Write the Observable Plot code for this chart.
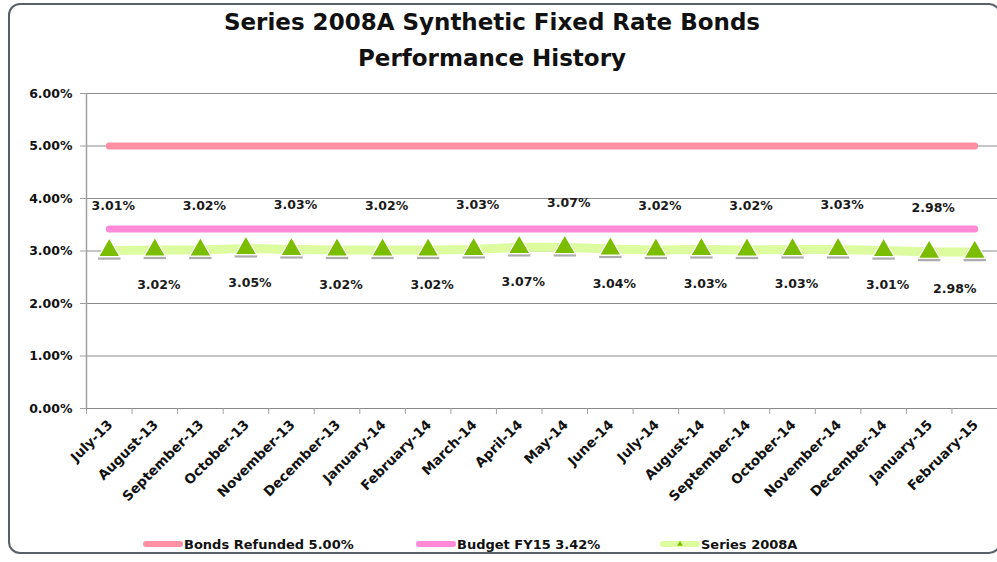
<!DOCTYPE html>
<html>
<head>
<meta charset="utf-8">
<script src="https://cdn.jsdelivr.net/npm/d3@7"></script>
<script src="https://cdn.jsdelivr.net/npm/@observablehq/plot@0.6"></script>
<style>
  html, body { margin: 0; padding: 0; background: #fff; }
  body { width: 997px; height: 562px; position: relative; overflow: hidden; font-family: "DejaVu Sans", sans-serif; }
  #frame { position: absolute; left: 8px; top: 3px; width: 993px; height: 551px; border: 2px solid #59606a; border-radius: 12px; box-sizing: border-box; }
  #title { position: absolute; left: 0; width: 984px; top: 4px; text-align: center; font-weight: bold; font-size: 23px; line-height: 36px; color: #111; }
  #chart { position: absolute; left: 0; top: 0; }
  #legend { position: absolute; top: 536px; left: 0; width: 997px; height: 20px; }
  .item { position: absolute; top: 0; display: flex; align-items: center; font-size: 13px; font-weight: bold; color: #111; }
  .item svg { margin-right: 1px; }
</style>
</head>
<body>
<div id="frame"></div>
<div id="title">Series 2008A Synthetic Fixed Rate Bonds<br>Performance History</div>
<div id="chart"></div>
<div id="legend"></div>
<script>
// Monthly categories
const months = [
  "July-13", "August-13", "September-13", "October-13", "November-13", "December-13",
  "January-14", "February-14", "March-14", "April-14", "May-14", "June-14",
  "July-14", "August-14", "September-14", "October-14", "November-14", "December-14",
  "January-15", "February-15"
];
// Series 2008A synthetic fixed rate (%)
const series2008A = [
  3.01, 3.02, 3.02, 3.05, 3.03, 3.02, 3.02, 3.02, 3.03, 3.07,
  3.07, 3.04, 3.02, 3.03, 3.02, 3.03, 3.03, 3.01, 2.98, 2.98
];
// Reference rates (%)
const bondsRefunded = 5.00;
const budgetFY15 = 3.42;
// Y axis ticks (%)
const yTicks = [0, 1, 2, 3, 4, 5, 6];

const colors = {
  bonds: "#ff8fa3",
  budget: "#ff8ad8",
  seriesLine: "#ddfb9f",
  seriesMark: "#7bbd00"
};

const last = months.length - 1;
const rows = months.map((m, i) => ({
  month: m,
  pos: i + 0.5,
  series: series2008A[i],
  bonds: bondsRefunded,
  budget: budgetFY15,
  above: i % 2 === 0,
  last: i === last
}));

// A soft grey bar just beneath each triangle marker
const shadowSymbol = {
  draw(context, size) {
    const r = Math.sqrt(size / Math.PI);
    context.rect(-r * 1.4, r * 0.85, r * 2.8, r * 0.3);
  }
};

const fmt = v => v.toFixed(2) + "%";

const chart = Plot.plot({
  width: 997,
  height: 520,
  marginTop: 93,
  marginBottom: 112,
  marginLeft: 86,
  marginRight: 0,
  style: { fontFamily: "DejaVu Sans, sans-serif", fontWeight: "bold", fontSize: "12px", color: "#111", background: "transparent" },
  x: { domain: [0, months.length] },
  y: { domain: [0, 6] },
  marks: [
    Plot.gridY(yTicks, { stroke: "#8a8a8a", strokeOpacity: 1, strokeWidth: 1 }),
    Plot.ruleX([0], { stroke: "#a0a0a0", strokeWidth: 1.5 }),
    Plot.axisY(yTicks, { tickFormat: fmt, tickSize: 6, tickPadding: 8, stroke: "#a0a0a0", fontSize: 12.5, label: null }),
    Plot.axisX(d3.range(months.length + 1), { tickFormat: () => "", tickSize: 6, stroke: "#a0a0a0", label: null }),
    Plot.axisX(rows.map(d => d.pos), {
      tickFormat: p => months[Math.floor(p)],
      tickSize: 0, tickRotate: -45, tickPadding: 14, fontSize: 13.5, dx: 1, label: null
    }),
    Plot.lineY(rows, { x: "pos", y: "bonds", stroke: colors.bonds, strokeWidth: 7, strokeLinecap: "round" }),
    Plot.lineY(rows, { x: "pos", y: "budget", stroke: colors.budget, strokeWidth: 7, strokeLinecap: "round" }),
    Plot.lineY(rows, { x: "pos", y: "series", stroke: colors.seriesLine, strokeWidth: 9, strokeLinecap: "round" }),
    Plot.dot(rows, { x: "pos", y: "series", symbol: shadowSymbol, r: 8, fill: "#777", fillOpacity: 0.6, stroke: "none" }),
    Plot.dot(rows, { x: "pos", y: "series", symbol: "triangle", r: 8, fill: colors.seriesMark, stroke: "#ffffff", strokeWidth: 1.2 }),
    Plot.text(rows.filter(d => d.above), { x: "pos", y: "series", text: d => fmt(d.series), dy: -44, dx: 4, fontSize: 12.5, fill: "#1a1a1a" }),
    Plot.text(rows.filter(d => !d.above && !d.last), { x: "pos", y: "series", text: d => fmt(d.series), dy: 35, dx: 4, fontSize: 12.5, fill: "#1a1a1a" }),
    Plot.text(rows.filter(d => d.last), { x: "pos", y: "series", text: d => fmt(d.series), dy: 37, dx: -20, fontSize: 12.5, fill: "#1a1a1a" })
  ]
});
document.getElementById("chart").appendChild(chart);

// Legend below the chart
const legendItems = [
  { label: "Bonds Refunded " + fmt(bondsRefunded), color: colors.bonds, left: 143, marker: false },
  { label: "Budget FY15 " + fmt(budgetFY15), color: colors.budget, left: 416, marker: false },
  { label: "Series 2008A", color: colors.seriesLine, left: 660, marker: true }
];
const legend = document.getElementById("legend");
legendItems.forEach(it => {
  const div = document.createElement("div");
  div.className = "item";
  div.style.left = it.left + "px";
  const sw = d3.create("svg").attr("width", 40).attr("height", 16);
  sw.append("line").attr("x1", 3).attr("x2", 37).attr("y1", 8).attr("y2", 8)
    .attr("stroke", it.color).attr("stroke-width", 6).attr("stroke-linecap", "round");
  if (it.marker) {
    sw.append("path").attr("transform", "translate(20,8)")
      .attr("d", d3.symbol(d3.symbolTriangle, 14)()).attr("fill", colors.seriesMark);
  }
  div.appendChild(sw.node());
  const span = document.createElement("span");
  span.textContent = it.label;
  div.appendChild(span);
  legend.appendChild(div);
});
</script>
</body>
</html>
